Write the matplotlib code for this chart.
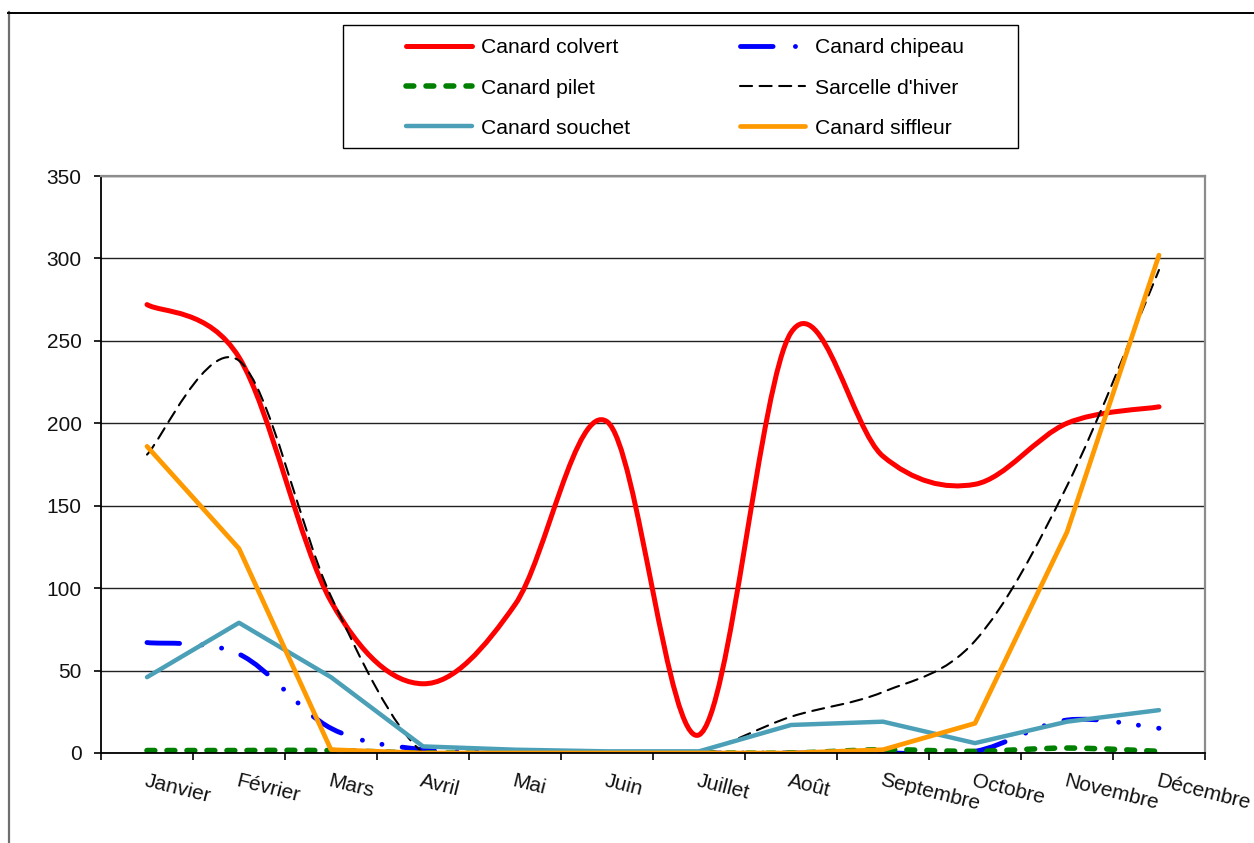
import matplotlib
matplotlib.use("Agg")
import matplotlib.pyplot as plt
from matplotlib.path import Path
from matplotlib.patches import PathPatch
from matplotlib.lines import Line2D
import numpy as np

plt.rcParams['font.family'] = ['Liberation Sans', 'DejaVu Sans']

# mois
mois = ["Janvier", "Février", "Mars", "Avril", "Mai", "Juin", "Juillet",
        "Août", "Septembre", "Octobre", "Novembre", "Décembre"]

# effectifs par espèce
colvert = [272, 240, 92, 42, 90, 201, 11, 255, 180, 163, 200, 210]
chipeau = [67, 60, 15, 2, 1, 0, 0, 0, 0, 1, 20, 15]
pilet = [1.5, 1.5, 1.5, 0, 0, 0, 0, 0, 2, 1, 3, 1]
sarcelle = [181, 238, 95, 0, 0, 0, 1, 22, 37, 68, 162, 293]
souchet = [46, 79, 46, 4, 2, 1, 1, 17, 19, 6, 19, 26]
siffleur = [186, 124, 2, 0, 0, 0, 0, 0, 2, 18, 134, 302]


def courbe_lissee(x, y):
    # courbe de Bezier passant par les points (lissage type tableur)
    p = np.column_stack([x, y]).astype(float)
    n = len(p)
    verts = [p[0]]
    codes = [Path.MOVETO]
    for i in range(n - 1):
        p0 = p[i - 1] if i > 0 else p[i]
        p3 = p[i + 2] if i + 2 < n else p[i + 1]
        c1 = p[i] + (p[i + 1] - p0) / 6.0
        c2 = p[i + 1] - (p3 - p[i]) / 6.0
        verts += [c1, c2, p[i + 1]]
        codes += [Path.CURVE4] * 3
    return Path(verts, codes)


fig = plt.figure(figsize=(12.54, 8.43), dpi=100)
W, H = 1254, 843
ax = fig.add_axes([101 / W, 1 - 753 / H, (1205 - 101) / W, (753 - 176) / H])

x = np.arange(12)

# styles des séries
s_colvert = dict(color="#FF0000", lw=3.6, ls="-")
s_chipeau = dict(color="#0000FF", lw=3.5, ls=(0, (6.7, 4.6, 0.01, 4.1, 0.01, 4.2)))
s_pilet = dict(color="#008000", lw=4.0, ls=(0, (1.4, 2.2)))
s_sarcelle = dict(color="#000000", lw=1.5, ls=(0, (5.8, 3.6)))
s_souchet = dict(color="#4BA0B8", lw=3.2, ls="-")
s_siffleur = dict(color="#FF9900", lw=3.4, ls="-")

# séries lissées
for serie, st in [(colvert, s_colvert), (chipeau, s_chipeau),
                  (pilet, s_pilet), (sarcelle, s_sarcelle)]:
    patch = PathPatch(courbe_lissee(x, serie), fill=False, edgecolor=st["color"],
                      lw=st["lw"], ls=st["ls"], capstyle="round", joinstyle="round")
    ax.add_patch(patch)

# séries en lignes droites
ax.plot(x, souchet, solid_capstyle="round", zorder=2, **s_souchet)
ax.plot(x, siffleur, solid_capstyle="round", zorder=2, **s_siffleur)

ax.set_xlim(-0.5, 11.5)
ax.set_ylim(0, 350)
ax.set_yticks(np.arange(0, 351, 50))
ax.set_xticks(np.arange(-0.5, 12, 1))
ax.set_xticklabels([])
ax.set_xticks(x, minor=True)
ax.set_xticklabels(mois, minor=True, rotation=-14, ha="left", va="top",
                   rotation_mode="anchor")
ax.tick_params(axis="x", which="major", length=5, width=1.2, color="black")
ax.tick_params(axis="x", which="minor", length=0, pad=13, labelsize=15, labelcolor="#111111")
ax.tick_params(axis="y", length=5, width=1.2, pad=9, labelsize=15, labelcolor="#111111")

ax.grid(axis="y", color="#222222", lw=1.0)
ax.set_axisbelow(True)
for s in ["left", "bottom"]:
    ax.spines[s].set_color("black")
    ax.spines[s].set_linewidth(1.3)
for s in ["top", "right"]:
    ax.spines[s].set_color("#8C8C8C")
    ax.spines[s].set_linewidth(1.6)

# légende
def poignee(st):
    return Line2D([], [], color=st["color"], lw=st["lw"], ls=st["ls"],
                  dash_capstyle="round", solid_capstyle="round")

handles = [poignee(s_colvert), poignee(s_pilet), poignee(s_souchet),
           poignee(s_chipeau), poignee(s_sarcelle), poignee(s_siffleur)]
labels = ["Canard colvert", "Canard pilet", "Canard souchet",
          "Canard chipeau", "Sarcelle d'hiver", "Canard siffleur"]
fig.legend(handles, labels, ncol=2, loc="center",
           bbox_to_anchor=(685 / W, 1 - 88 / H), frameon=False, fontsize=15.2,
           handlelength=3.1, handletextpad=0.45, columnspacing=5.2,
           labelspacing=1.0)
fig.add_artist(plt.Rectangle((343 / W, 1 - 148 / H), (1018 - 343) / W, (148 - 25) / H,
                             transform=fig.transFigure, fill=False,
                             edgecolor="black", lw=1.0))

# cadre du graphique
fig.add_artist(Line2D([8.5 / W, 8.5 / W], [0, 1 - 12 / H], transform=fig.transFigure,
                      color="#6E6E6E", lw=1.6))
fig.add_artist(Line2D([8 / W, 1253 / W], [1 - 12.5 / H, 1 - 12.5 / H],
                      transform=fig.transFigure, color="black", lw=1.4))

fig.savefig("out.png", dpi=100)
